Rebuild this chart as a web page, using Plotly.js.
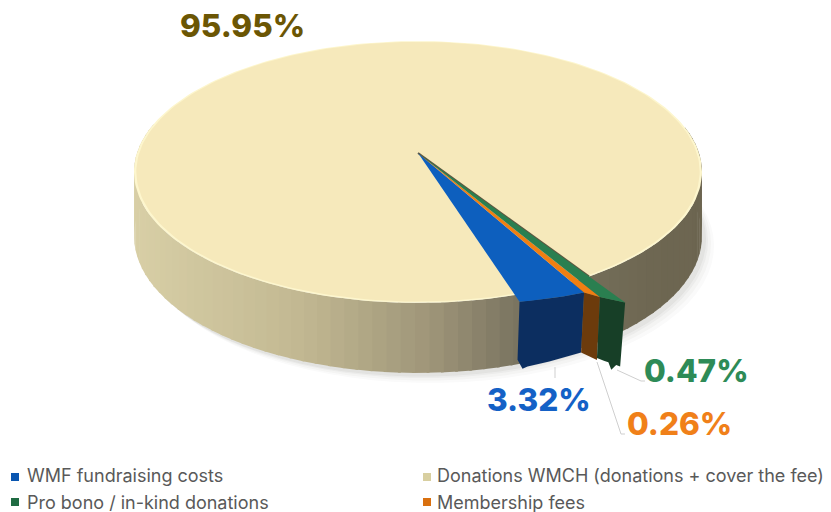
<!DOCTYPE html>
<html><head><meta charset="utf-8">
<script src="https://cdn.plot.ly/plotly-3.0.1.min.js"></script>
<style>html,body{margin:0;padding:0;background:#fff}#c{width:831px;height:512px}</style></head>
<body><div id="c"></div><script>
// ---- data ----
const categories = ["WMF fundraising costs","Pro bono / in-kind donations","Donations WMCH (donations + cover the fee)","Membership fees"];
const legendColors = ["#0a56b0","#1f6b42","#d8cfa0","#d9700f"];
const sliceNames = ["WMF fundraising costs","Membership fees","Pro bono / in-kind donations"];
const sliceValues = [3.32,0.26,0.47];
const mainValue = 95.95;
const labelTexts = ["95.95%","3.32%","0.26%","0.47%"];
// ---- pie geometry ----
const apexX=418, apexY=153, hx=281, ha=106, hc=-0.145;
const wedgeStart=72.7, wedgeSpan=15, sliceExponent=0.8;   // reference exaggerates the small slices
const edgeRadius=[1.04,1.07,1.115,1.18];
const topColors=["#0d5fbe","#f07f12","#2a7f50"], sideColors=["#0c2e60","#6c3b0c","#173f27"];
const rad=d=>d*Math.PI/180;
function P(deg,r){const u=r*Math.cos(rad(deg)),v=r*Math.sin(rad(deg)),w=1+hc*v;
  return [apexX+hx*u/w,(ha*v+apexY)/w];}
function Depth(deg){return 63+7*Math.sin(rad(deg));}
function lerpColor(x){const s=[[133,216,207,166],[300,194,184,146],[430,158,149,120],[515,122,116,96],[650,110,103,82],[705,108,101,80]];
  for(let i=1;i<s.length;i++){if(x<=s[i][0]){const t=Math.max(0,(x-s[i-1][0])/(s[i][0]-s[i-1][0]));
    return `rgb(${[1,2,3].map(k=>Math.round(s[i-1][k]+t*(s[i][k]-s[i-1][k]))).join(",")})`;}}
  return "rgb(108,101,80)";}
const traces=[];
function poly(pts,color,extra){traces.push(Object.assign({type:"scatter",mode:"lines",x:pts.map(p=>p[0]),y:pts.map(p=>p[1]),
  fill:"toself",fillcolor:color,line:{width:0,color:color},hoverinfo:"skip",showlegend:false},extra||{}));}
// soft shadow
[[10,.025],[7,.03],[4,.04],[2,.05]].forEach(([g,a])=>{const pts=[];
  for(let d=-180;d<=180;d+=4){const p=P(d,1);const q=[p[0]+g+2,p[1]+Depth(d)+g*.8+2];pts.push(q);}
  poly(pts,`rgba(60,55,40,${a})`);});
// main slice side wall
for(let d=-12;d<192;d+=2.5){const a=P(d,1),b=P(d+3,1);
  poly([a,b,[b[0],b[1]+Depth(d+3)],[a[0],a[1]+Depth(d)]],lerpColor((a[0]+b[0])/2));}
// slice boundaries from values
const weights=sliceValues.map(v=>Math.pow(v,sliceExponent));
const total=weights.reduce((a,b)=>a+b,0);
const bounds=[wedgeStart];weights.forEach(w=>bounds.push(bounds[bounds.length-1]-w/total*wedgeSpan));
const wedgeEnd=bounds[bounds.length-1];
// main slice top face (rim + face)
function mainFace(r,color){const pts=[[apexX,apexY]];
  for(let d=wedgeEnd;d>=wedgeStart-360;d-=1.5){pts.push(P(d,r));}
  pts.push(P(wedgeStart,r));pts.push([apexX,apexY]);poly(pts,color,{name:"Donations WMCH"});}
mainFace(1,"#fdf6cd");mainFace(0.992,"#f6e9bb");
traces.push({type:"scatter",mode:"lines",x:[apexX,P(wedgeEnd,1)[0]],y:[apexY,P(wedgeEnd,1)[1]],line:{color:"#5f5640",width:2},hoverinfo:"skip",showlegend:false});
// exploded slices
sliceValues.forEach((v,i)=>{const a=bounds[i],b=bounds[i+1],ra=edgeRadius[i],rb=edgeRadius[i+1];
  const arc=[];for(let k=0;k<=6;k++){const t=k/6;arc.push(P(a+(b-a)*t,ra+(rb-ra)*t));}
  const drop=arc.map((p,k)=>{const dep=[[67,60],[60,63],[61,64]][i];const t=k/6;return [p[0]-3-(i==2?2*t:0),p[1]+dep[0]+(dep[1]-dep[0])*t];});
  if(i==0){const d0=drop[0];drop[0]=[d0[0]+6,d0[1]];drop.unshift([d0[0]+1,d0[1]-9]);}   // chamfered lower corner
  if(i==2){const m=drop[4];drop.splice(4,1,[m[0]-1,m[1]+6]);}
  poly(arc.concat(drop.slice().reverse()),sideColors[i],{name:sliceNames[i]});
  poly([[apexX,apexY]].concat(arc),topColors[i]);
});
// legend entries (two columns); coloured swatches are drawn as shapes beside the text
categories.forEach((c,i)=>traces.push({type:"scatter",mode:"markers",x:[null],y:[null],name:c,legend:i<2?"legend":"legend2",
  marker:{symbol:"square",size:8,color:"rgba(0,0,0,0)"},hoverinfo:"skip"}));
const swatchX=[15,15,427,427], swatchY=[477,502,477,502];
const swatches=categories.map((c,i)=>({type:"rect",x0:swatchX[i]-4,x1:swatchX[i]+4,y0:swatchY[i]-4,y1:swatchY[i]+4,fillcolor:legendColors[i],line:{width:0}}));
const leader=(d)=>({type:"path",path:d,line:{color:"#cfcfcf",width:1}});
const ann=(t,x,y,c)=>({text:t,x:x,y:y,xref:"x",yref:"y",showarrow:false,xanchor:"left",yanchor:"middle",
  font:{family:"Inter, sans-serif",size:31.5,color:c,weight:800}});
const legendBase={y:1-457/512,yanchor:"top",xanchor:"left",indentation:-8,orientation:"v",maxheight:200,
  font:{family:"Inter, sans-serif",size:18,color:"#595959"},bgcolor:"rgba(0,0,0,0)",traceorder:"normal"};
Plotly.newPlot("c",traces,{
  width:831,height:512,margin:{l:0,r:0,t:0,b:0,autoexpand:false},paper_bgcolor:"#fff",plot_bgcolor:"#fff",
  xaxis:{range:[0,831],visible:false,fixedrange:true},
  yaxis:{range:[512,0],visible:false,fixedrange:true},
  shapes:[leader("M 555 367 L 555 378"),leader("M 597 362 L 621 434 L 625 434"),leader("M 617 370 L 641 381 L 645 381")].concat(swatches),
  annotations:[ann(labelTexts[0],178,25,"#6b5604"),ann(labelTexts[1],485,399,"#1461c6"),ann(labelTexts[2],625,423,"#f08019"),ann(labelTexts[3],642,370,"#2e8b57")],
  showlegend:true,
  legend:Object.assign({x:-5/831},legendBase),
  legend2:Object.assign({x:405/831},legendBase)
},{staticPlot:true,displayModeBar:false});
</script></body></html>
